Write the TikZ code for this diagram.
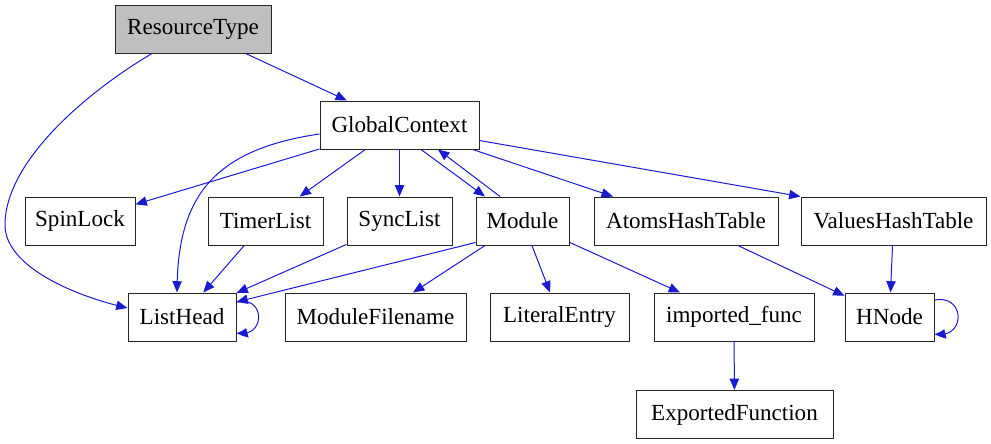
\documentclass[tikz,border=0pt]{standalone}
\usepackage{fontspec}
\setmainfont{Liberation Serif}
\usetikzlibrary{calc}
\usetikzlibrary{arrows.meta,bending}

\definecolor{edgeblue}{RGB}{26,26,208}
\definecolor{rootgrey}{RGB}{191,191,191}

\begin{document}
\begin{tikzpicture}[x=0.75pt, y=-0.75pt,
    cls/.style={draw=black!85, line width=0.75pt, minimum height=36pt, inner sep=0pt,
        font=\fontsize{17.3pt}{20pt}\selectfont},
    dep/.style={edgeblue, line width=0.75pt, -{Triangle[length=8.5pt, width=7pt, bend]}}]

    \useasboundingbox (0,0) rectangle (991,443);

    % top
    \node[cls, fill=rootgrey, minimum width=117pt] (rt) at (193,29) {ResourceType};
    \node[cls, minimum width=119.25pt] (gc) at (399.5,125) {GlobalContext};

    % middle row
    \node[cls, minimum width=82.5pt] (spin) at (80,221) {SpinLock};
    \node[cls, minimum width=86.25pt] (timer) at (265.5,221) {TimerList};
    \node[cls, minimum width=78.75pt] (sync) at (399.5,221) {SyncList};
    \node[cls, minimum width=69.75pt] (module) at (522.5,221) {Module};
    \node[cls, minimum width=138pt] (atoms) at (686,221) {AtomsHashTable};
    \node[cls, minimum width=138.75pt] (values) at (893.5,221) {ValuesHashTable};

    % bottom rows
    \node[cls, minimum width=81pt] (lhead) at (182,317) {ListHead};
    \node[cls, minimum width=135.75pt] (modfile) at (375.5,317) {ModuleFilename};
    \node[cls, minimum width=104.25pt] (literal) at (559.5,317) {LiteralEntry};
    \node[cls, minimum width=120pt] (imported) at (734,317) {imported\_func};
    \node[cls, minimum width=66.75pt] (hnode) at (889.5,317) {HNode};
    \node[cls, minimum width=147.75pt] (exported) at (734.5,414.5) {ExportedFunction};

    \draw[dep] (rt) -- (gc);
    \draw[dep] ($(rt.south)+(-41,0)$) .. controls (90,90) and (5,160) .. (5,225)
        .. controls (5,265) and (70,295) .. ($(lhead.west)+(0,-9)$);

    \draw[dep] (gc) -- (spin);
    \draw[dep] ($(gc.west)+(0,9)$) .. controls (210,150) and (177,200) .. ($(lhead.north)+(-5,0)$);
    \draw[dep] (gc) -- (timer);
    \draw[dep] (gc) -- (sync);
    \draw[dep] ($(gc.south)+(21.5,0)$) -- ($(module.north)+(-37.5,0)$);
    \draw[dep] ($(module.north)+(-22.5,0)$) -- ($(gc.south)+(38.5,0)$);
    \draw[dep] (gc) -- (atoms);
    \draw[dep] ($(gc.east)+(0,15.5)$) -- (values.north west);

    \draw[dep] (timer) -- (lhead);
    \draw[dep] (sync) -- (lhead);
    \draw[dep] ($(module.south west)+(0,-3)$) -- ($(lhead.east)+(0,-15)$);
    \draw[dep] (module) -- (modfile);
    \draw[dep] (module) -- (literal);
    \draw[dep] (module) -- (imported);

    \draw[dep] (atoms) -- (hnode);
    \draw[dep] (values) -- (hnode);
    \draw[dep] (imported) -- (exported);

    % self loops
    \draw[dep] ($(lhead.east)+(0,-15)$) .. controls (266,295) and (266,339) .. ($(lhead.east)+(0,16)$);
    \draw[dep] ($(hnode.east)+(0,-17)$) .. controls (966,294) and (966,340) .. ($(hnode.east)+(0,17)$);
\end{tikzpicture}
\end{document}
